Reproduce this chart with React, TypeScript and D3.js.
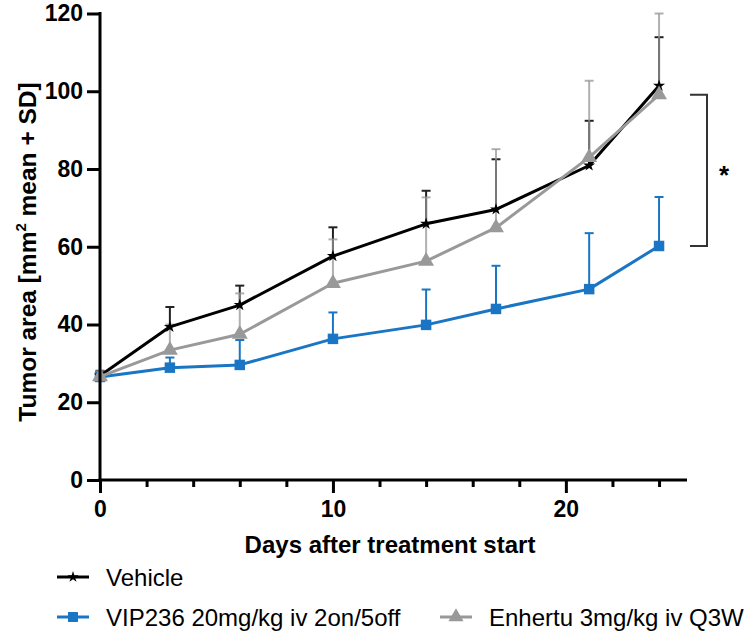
import React, { useEffect, useRef } from 'react';
import * as d3 from 'd3';

// days on which tumours were measured
const days = [0, 3, 6, 10, 14, 17, 21, 24];

// mean tumour area (mm2) per group
const vehicleMean = [26.8, 39.4, 45.0, 57.6, 65.9, 69.6, 80.9, 101.4];
const vipMean = [26.5, 28.9, 29.6, 36.3, 39.9, 44.0, 49.1, 60.2];
const enhertuMean = [26.6, 33.4, 37.5, 50.6, 56.3, 64.9, 83.0, 99.1];

// mean + SD (top of each error bar)
const vehicleTop = [28.1, 44.5, 50.0, 65.0, 74.4, 82.5, 92.4, 113.9];
const vipTop = [27.8, 31.5, 36.0, 43.1, 49.0, 55.1, 63.5, 72.8];
const enhertuTop = [28.0, 40.0, 48.0, 61.9, 72.7, 85.1, 102.7, 120.0];

const yTicks = [0, 20, 40, 60, 80, 100, 120];
const xMajorTicks = [0, 10, 20];
const xMinorTicks = [2, 4, 6, 8, 12, 14, 16, 18, 22, 24];

const FONT = '"Liberation Sans", Arial, sans-serif';

const App = () => {
    const ref = useRef<SVGSVGElement | null>(null);

    useEffect(() => {
        if (!ref.current) return;
        const svg = d3.select(ref.current);
        svg.selectAll('*').remove();

        const x = d3.scaleLinear().domain([0, 25.2]).range([100, 687]);
        const y = d3.scaleLinear().domain([0, 120]).range([480, 13.5]);

        const series = [
            { name: 'VIP236 20mg/kg iv 2on/5off', mean: vipMean, top: vipTop, color: '#1a76c4', err: '#1a76c4', symbol: d3.symbolSquare, size: 110 },
            { name: 'Vehicle', mean: vehicleMean, top: vehicleTop, color: '#000000', err: '#222222', symbol: d3.symbolStar, size: 45 },
            { name: 'Enhertu 3mg/kg iv Q3W', mean: enhertuMean, top: enhertuTop, color: '#999999', err: 'rgba(150,150,150,0.75)', symbol: d3.symbolTriangle, size: 110 },
        ];

        // error bars
        series.forEach(s => {
            const g = svg.append('g');
            days.forEach((d, i) => {
                g.append('line')
                    .attr('x1', x(d)).attr('x2', x(d))
                    .attr('y1', y(s.mean[i])).attr('y2', y(s.top[i]))
                    .attr('stroke', s.err).attr('stroke-width', 2);
                g.append('line')
                    .attr('x1', x(d) - 4.5).attr('x2', x(d) + 4.5)
                    .attr('y1', y(s.top[i])).attr('y2', y(s.top[i]))
                    .attr('stroke', s.err).attr('stroke-width', 2);
            });
        });

        // lines and markers
        series.forEach(s => {
            const line = d3.line<number>().x((_, i) => x(days[i])).y(v => y(v));
            svg.append('path')
                .attr('d', line(s.mean))
                .attr('fill', 'none')
                .attr('stroke', s.color)
                .attr('stroke-width', 3)
                .attr('stroke-linejoin', 'round');
            svg.append('g').selectAll('path')
                .data(s.mean)
                .enter()
                .append('path')
                .attr('d', d3.symbol().type(s.symbol).size(s.size)())
                .attr('transform', (v, i) => `translate(${x(days[i])},${y(v)})`)
                .attr('fill', s.color);
        });

        // y axis
        const yAxis = svg.append('g')
            .attr('transform', `translate(${x(0)},0)`)
            .call(d3.axisLeft(y).tickValues(yTicks).tickSize(13).tickPadding(4).tickSizeOuter(0));
        yAxis.select('.domain').attr('stroke-width', 3).attr('d', `M0,${y(120) - 1.5}V${y(0) + 1.5}`);
        yAxis.selectAll('.tick line').attr('stroke-width', 3);
        yAxis.selectAll('.tick text')
            .attr('font-family', FONT).attr('font-size', 23).attr('font-weight', 'bold').attr('fill', '#000');

        // x axis
        const xAxis = svg.append('g')
            .attr('transform', `translate(0,${y(0)})`)
            .call(d3.axisBottom(x).tickValues(xMajorTicks).tickSize(13).tickPadding(8).tickSizeOuter(0));
        xAxis.select('.domain').attr('stroke-width', 3).attr('d', `M${x(0) - 1.5},0H687`);
        xAxis.selectAll('.tick line').attr('stroke-width', 3);
        xAxis.selectAll('.tick text')
            .attr('font-family', FONT).attr('font-size', 23).attr('font-weight', 'bold').attr('fill', '#000');
        svg.append('g')
            .attr('transform', `translate(0,${y(0)})`)
            .call(d3.axisBottom(x).tickValues(xMinorTicks).tickSize(7).tickFormat(() => '').tickSizeOuter(0))
            .call(g => g.select('.domain').remove())
            .selectAll('.tick line').attr('stroke-width', 3);

        // axis titles
        svg.append('text')
            .attr('x', 390).attr('y', 553)
            .attr('text-anchor', 'middle')
            .attr('font-family', FONT).attr('font-size', 24).attr('font-weight', 'bold')
            .text('Days after treatment start');
        const yt = svg.append('text')
            .attr('transform', 'translate(36,252) rotate(-90)')
            .attr('text-anchor', 'middle')
            .attr('font-family', FONT).attr('font-size', 24.5).attr('font-weight', 'bold');
        yt.append('tspan').text('Tumor area [mm');
        yt.append('tspan').attr('dy', -10).attr('font-size', 15).text('2');
        yt.append('tspan').attr('dy', 10).text(' mean + SD]');

        // significance bracket
        svg.append('path')
            .attr('d', `M690,${y(99.1)}H707V${y(60.2)}H690`)
            .attr('fill', 'none').attr('stroke', '#333').attr('stroke-width', 2);
        svg.append('text')
            .attr('x', 724).attr('y', 184)
            .attr('text-anchor', 'middle')
            .attr('font-family', FONT).attr('font-size', 26).attr('font-weight', 'bold')
            .text('*');

        // legend
        const legend = [
            { s: series[1], lx: 57, ly: 577 },
            { s: series[0], lx: 57, ly: 617 },
            { s: series[2], lx: 440, ly: 617 },
        ];
        legend.forEach(({ s, lx, ly }) => {
            svg.append('line')
                .attr('x1', lx).attr('x2', lx + 32).attr('y1', ly).attr('y2', ly)
                .attr('stroke', s.color).attr('stroke-width', 3);
            svg.append('path')
                .attr('d', d3.symbol().type(s.symbol).size(s.size * 0.9)())
                .attr('transform', `translate(${lx + 16},${ly})`)
                .attr('fill', s.color);
            svg.append('text')
                .attr('x', lx + 49).attr('y', ly + 8.5)
                .attr('font-family', FONT).attr('font-size', 24)
                .text(s.name);
        });
    }, []);

    return (
        <svg
            ref={ref}
            width={748}
            height={631}
            style={{ position: 'absolute', left: 0, top: 0, background: '#fff' }}
        />
    );
};

export default App;
